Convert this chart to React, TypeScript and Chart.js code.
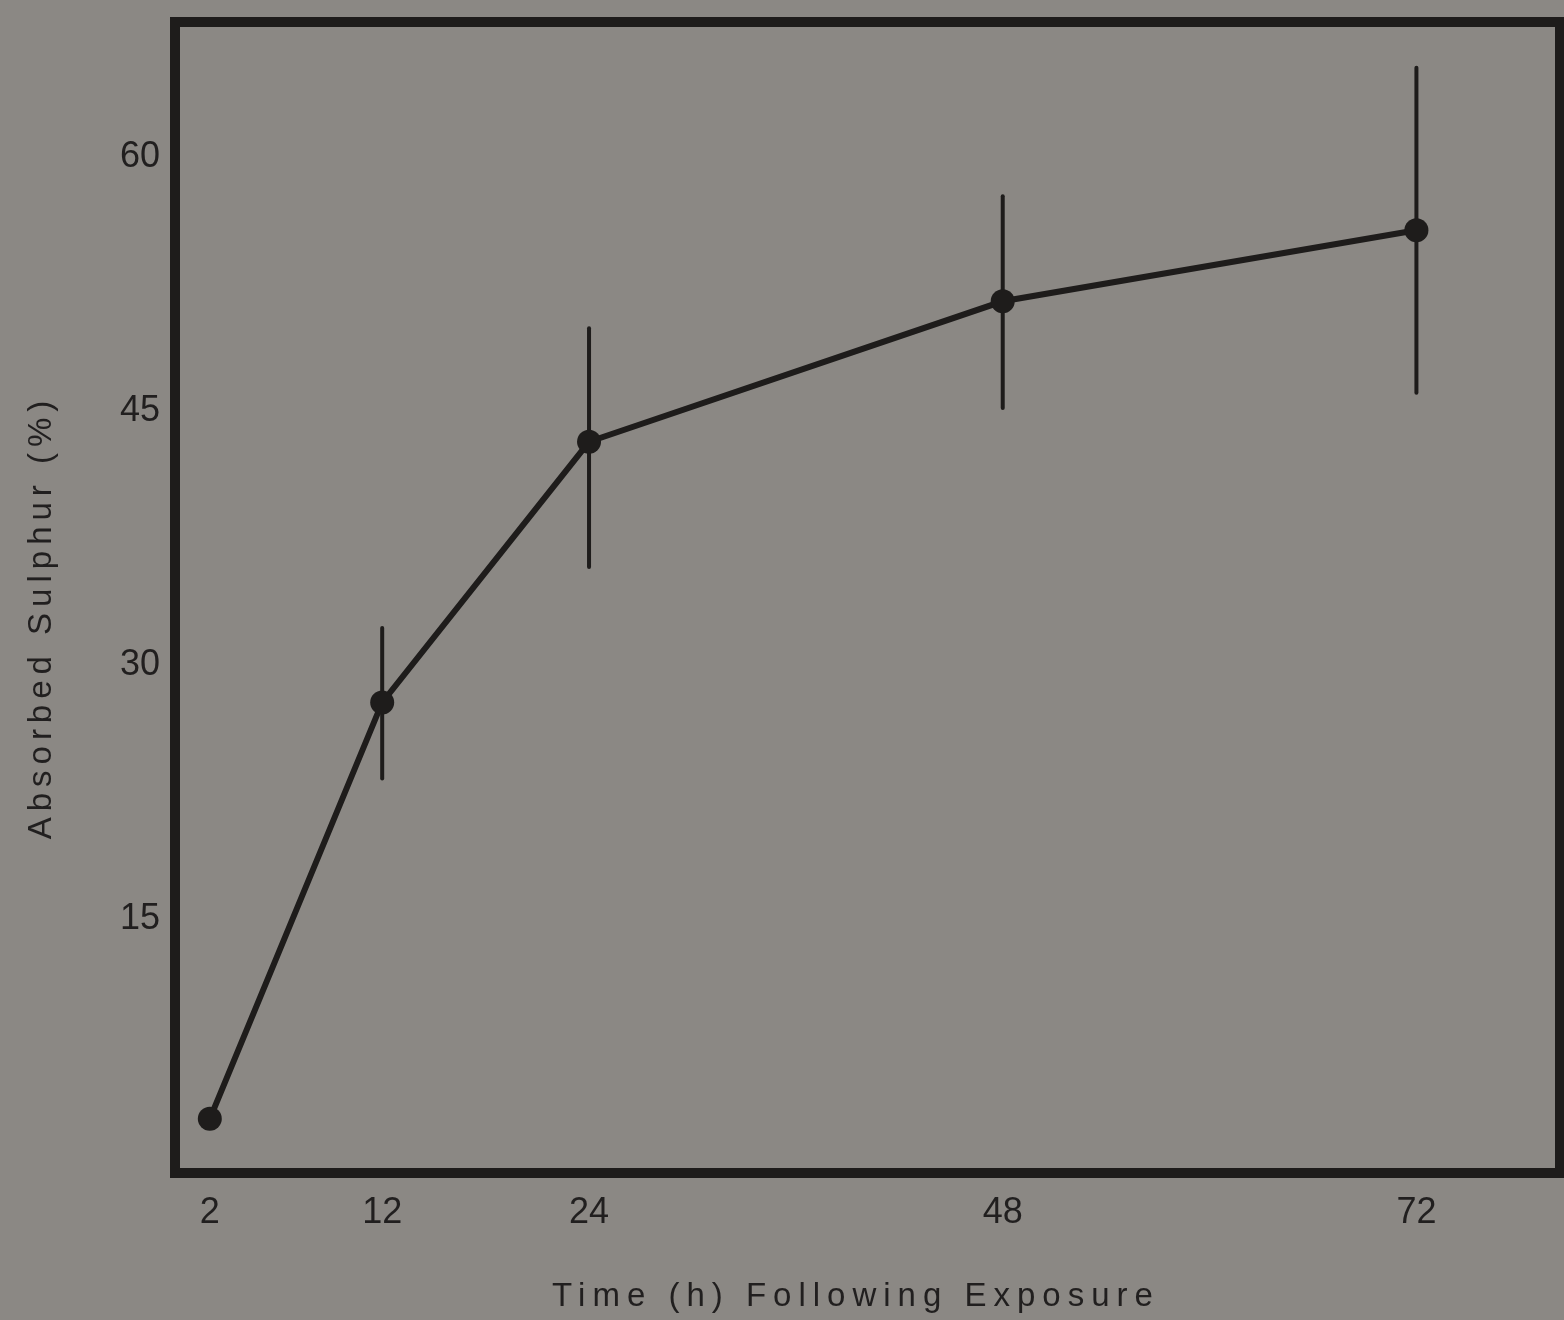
import React, { useEffect, useRef } from "react";
import { Chart, registerables } from "chart.js";

Chart.register(...registerables);

// ---- data ----
const hours = [2, 12, 24, 48, 72];
const absorbedSulphur = [3.2, 27.8, 43.2, 51.5, 55.7];
const errorUpper: (number | null)[] = [null, 32.2, 49.9, 57.7, 65.3];
const errorLower: (number | null)[] = [null, 23.3, 35.8, 45.2, 46.1];
const xTickValues = [2, 12, 24, 48, 72];
const yTickValues = [15, 30, 45, 60];
const xTitle = "Time (h) Following Exposure";
const yTitle = "Absorbed Sulphur (%)";

// ---- styles ----
const INK = "#1e1c1b";
const TEXT = "#211f1f";
const BG = "#8b8884";
const FONT = "'Liberation Sans', Arial, sans-serif";
const W = 1572;
const H = 1320;

const backgroundPlugin = {
  id: "bgFill",
  beforeDraw(chart: any) {
    const ctx = chart.ctx;
    ctx.save();
    ctx.fillStyle = BG;
    ctx.fillRect(0, 0, chart.width, chart.height);
    ctx.restore();
  },
};

const framePlugin = {
  id: "frameAndErrors",
  beforeDatasetsDraw(chart: any) {
    const { ctx, chartArea, scales } = chart;
    ctx.save();
    // error bars
    ctx.strokeStyle = INK;
    ctx.lineWidth = 4;
    ctx.lineCap = "round";
    hours.forEach((h, i) => {
      const hi = errorUpper[i];
      const lo = errorLower[i];
      if (hi == null || lo == null) return;
      const px = scales.x.getPixelForValue(h);
      ctx.beginPath();
      ctx.moveTo(px, scales.y.getPixelForValue(hi));
      ctx.lineTo(px, scales.y.getPixelForValue(lo));
      ctx.stroke();
    });
    // frame
    ctx.lineWidth = 10;
    ctx.lineCap = "butt";
    ctx.lineJoin = "miter";
    ctx.strokeRect(
      chartArea.left,
      chartArea.top,
      chartArea.right - chartArea.left,
      chartArea.bottom - chartArea.top
    );
    ctx.restore();
  },
};

const titlesPlugin = {
  id: "axisTitles",
  afterDraw(chart: any) {
    const ctx = chart.ctx;
    ctx.save();
    ctx.fillStyle = TEXT;
    ctx.font = `33px ${FONT}`;
    (ctx as any).letterSpacing = "7px";
    ctx.textAlign = "center";
    ctx.textBaseline = "alphabetic";
    ctx.fillText(xTitle, 856, 1306);
    ctx.translate(51, 617);
    ctx.rotate(-Math.PI / 2);
    (ctx as any).letterSpacing = "6px";
    ctx.fillText(yTitle, 0, 0);
    ctx.restore();
  },
};

export default function App() {
  const ref = useRef<HTMLCanvasElement>(null);

  useEffect(() => {
    const canvas = ref.current;
    if (!canvas) return;
    const chart = new Chart(canvas, {
      type: "line",
      data: {
        datasets: [
          {
            label: yTitle,
            data: hours.map((h, i) => ({ x: h, y: absorbedSulphur[i] })),
            borderColor: INK,
            borderWidth: 6,
            pointRadius: 12,
            pointBackgroundColor: INK,
            pointBorderWidth: 0,
            tension: 0,
            fill: false,
          },
        ],
      },
      options: {
        responsive: false,
        animation: false,
        devicePixelRatio: 1,
        layout: { padding: { top: 22, right: W - 1566, left: 0, bottom: 0 } },
        plugins: {
          legend: { display: false },
          tooltip: { enabled: false },
        },
        scales: {
          x: {
            type: "linear",
            min: -0.02,
            max: 80.33,
            grid: { display: false, drawTicks: false },
            border: { display: false },
            ticks: {
              autoSkip: false,
              maxRotation: 0,
              padding: 18,
              color: TEXT,
              font: { family: FONT, size: 36 },
            },
            afterBuildTicks: (scale: any) => {
              scale.ticks = xTickValues.map((v) => ({ value: v }));
            },
            afterFit: (scale: any) => {
              scale.height = H - 1173;
              scale.paddingLeft = 0;
              scale.paddingRight = 0;
              scale.paddingTop = 0;
              scale.paddingBottom = 0;
            },
          },
          y: {
            type: "linear",
            min: 0,
            max: 68,
            grid: { display: false, drawTicks: false },
            border: { display: false },
            ticks: {
              autoSkip: false,
              padding: 15,
              color: TEXT,
              font: { family: FONT, size: 36 },
            },
            afterBuildTicks: (scale: any) => {
              scale.ticks = yTickValues.map((v) => ({ value: v }));
            },
            afterFit: (scale: any) => {
              scale.width = 175;
              scale.paddingLeft = 0;
              scale.paddingRight = 0;
              scale.paddingTop = 0;
              scale.paddingBottom = 0;
            },
          },
        },
      },
      plugins: [backgroundPlugin, framePlugin, titlesPlugin],
    } as any);
    return () => chart.destroy();
  }, []);

  return (
    <div
      style={{
        position: "absolute",
        left: 0,
        top: 0,
        width: 1564,
        height: 1320,
        overflow: "hidden",
        background: BG,
      }}
    >
      <canvas
        ref={ref}
        width={W}
        height={H}
        style={{ display: "block", width: W, height: H }}
      />
    </div>
  );
}
